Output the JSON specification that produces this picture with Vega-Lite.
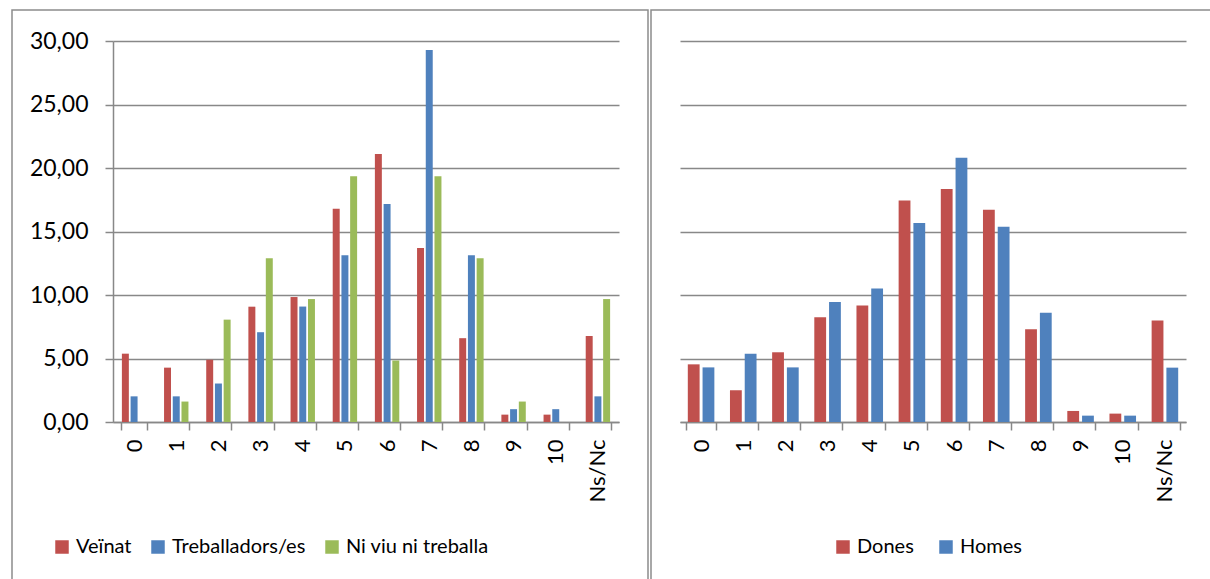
{
  "$schema": "https://vega.github.io/schema/vega-lite/v6.json",
  "padding": {"left": 0, "top": 9, "right": 0, "bottom": 0},
  "bounds": "flush",
  "spacing": 3,
  "background": "white",
  "datasets": {
    "left": [
      {"cat": "0", "serie": "Veïnat", "value": 5.38},
      {"cat": "0", "serie": "Treballadors/es", "value": 2.02},
      {"cat": "0", "serie": "Ni viu ni treballa", "value": 0},
      {"cat": "1", "serie": "Veïnat", "value": 4.28},
      {"cat": "1", "serie": "Treballadors/es", "value": 2.02},
      {"cat": "1", "serie": "Ni viu ni treballa", "value": 1.61},
      {"cat": "2", "serie": "Veïnat", "value": 4.9},
      {"cat": "2", "serie": "Treballadors/es", "value": 3.03},
      {"cat": "2", "serie": "Ni viu ni treballa", "value": 8.06},
      {"cat": "3", "serie": "Veïnat", "value": 9.08},
      {"cat": "3", "serie": "Treballadors/es", "value": 7.07},
      {"cat": "3", "serie": "Ni viu ni treballa", "value": 12.9},
      {"cat": "4", "serie": "Veïnat", "value": 9.84},
      {"cat": "4", "serie": "Treballadors/es", "value": 9.09},
      {"cat": "4", "serie": "Ni viu ni treballa", "value": 9.68},
      {"cat": "5", "serie": "Veïnat", "value": 16.8},
      {"cat": "5", "serie": "Treballadors/es", "value": 13.13},
      {"cat": "5", "serie": "Ni viu ni treballa", "value": 19.35},
      {"cat": "6", "serie": "Veïnat", "value": 21.1},
      {"cat": "6", "serie": "Treballadors/es", "value": 17.17},
      {"cat": "6", "serie": "Ni viu ni treballa", "value": 4.84},
      {"cat": "7", "serie": "Veïnat", "value": 13.7},
      {"cat": "7", "serie": "Treballadors/es", "value": 29.29},
      {"cat": "7", "serie": "Ni viu ni treballa", "value": 19.35},
      {"cat": "8", "serie": "Veïnat", "value": 6.6},
      {"cat": "8", "serie": "Treballadors/es", "value": 13.13},
      {"cat": "8", "serie": "Ni viu ni treballa", "value": 12.9},
      {"cat": "9", "serie": "Veïnat", "value": 0.58},
      {"cat": "9", "serie": "Treballadors/es", "value": 1.01},
      {"cat": "9", "serie": "Ni viu ni treballa", "value": 1.61},
      {"cat": "10", "serie": "Veïnat", "value": 0.58},
      {"cat": "10", "serie": "Treballadors/es", "value": 1.01},
      {"cat": "10", "serie": "Ni viu ni treballa", "value": 0},
      {"cat": "Ns/Nc", "serie": "Veïnat", "value": 6.77},
      {"cat": "Ns/Nc", "serie": "Treballadors/es", "value": 2.02},
      {"cat": "Ns/Nc", "serie": "Ni viu ni treballa", "value": 9.68}
    ],
    "right": [
      {"cat": "0", "serie": "Dones", "value": 4.54},
      {"cat": "0", "serie": "Homes", "value": 4.3},
      {"cat": "1", "serie": "Dones", "value": 2.5},
      {"cat": "1", "serie": "Homes", "value": 5.38},
      {"cat": "2", "serie": "Dones", "value": 5.49},
      {"cat": "2", "serie": "Homes", "value": 4.3},
      {"cat": "3", "serie": "Dones", "value": 8.24},
      {"cat": "3", "serie": "Homes", "value": 9.45},
      {"cat": "4", "serie": "Dones", "value": 9.18},
      {"cat": "4", "serie": "Homes", "value": 10.52},
      {"cat": "5", "serie": "Dones", "value": 17.45},
      {"cat": "5", "serie": "Homes", "value": 15.67},
      {"cat": "6", "serie": "Dones", "value": 18.35},
      {"cat": "6", "serie": "Homes", "value": 20.8},
      {"cat": "7", "serie": "Dones", "value": 16.72},
      {"cat": "7", "serie": "Homes", "value": 15.38},
      {"cat": "8", "serie": "Dones", "value": 7.3},
      {"cat": "8", "serie": "Homes", "value": 8.6},
      {"cat": "9", "serie": "Dones", "value": 0.87},
      {"cat": "9", "serie": "Homes", "value": 0.5},
      {"cat": "10", "serie": "Dones", "value": 0.66},
      {"cat": "10", "serie": "Homes", "value": 0.5},
      {"cat": "Ns/Nc", "serie": "Dones", "value": 8.0},
      {"cat": "Ns/Nc", "serie": "Homes", "value": 4.28}
    ]
  },
  "hconcat": [
    {
      "width": 636,
      "height": 572,
      "view": {"stroke": "#8c8c8c", "strokeWidth": 1.5},
      "data": {"name": "left"},
      "mark": {"type": "bar"},
      "encoding": {
        "x": {
          "field": "cat", "type": "nominal", "sort": null,
          "scale": {"range": [101, 607], "paddingInner": 0.38, "paddingOuter": 0.19},
          "axis": {
            "orient": "bottom", "offset": -160, "title": null,
            "labelAngle": 270, "labelAlign": "right", "labelBaseline": "middle",
            "labelPadding": 9, "tickBand": "extent", "tickSize": 8, "labelFontSize": 22
          }
        },
        "xOffset": {
          "field": "serie", "type": "nominal", "sort": null,
          "scale": {"domain": ["Veïnat", "Treballadors/es", "Ni viu ni treballa"], "paddingInner": 0.2, "paddingOuter": 0.1}
        },
        "y": {
          "field": "value", "type": "quantitative",
          "scale": {"domain": [0, 30], "range": [412, 31], "nice": false},
          "axis": {
            "orient": "left", "offset": -101, "title": null,
            "values": [0, 5, 10, 15, 20, 25, 30],
            "labelExpr": "replace(format(datum.value, '.2f'), '.', ',')",
            "grid": true, "domain": true, "ticks": true, "tickSize": 8,
            "labelPadding": 17, "labelFontSize": 23
          }
        },
        "color": {
          "field": "serie", "type": "nominal", "sort": null,
          "scale": {"domain": ["Veïnat", "Treballadors/es", "Ni viu ni treballa"], "range": ["#C0504D", "#4F81BD", "#9BBB59"]},
          "legend": {"orient": "none", "legendX": 40, "legendY": 527, "direction": "horizontal", "columns": 3, "columnPadding": 16}
        }
      }
    },
    {
      "width": 560,
      "height": 572,
      "view": {"stroke": "#8c8c8c", "strokeWidth": 1.5},
      "data": {"name": "right"},
      "mark": {"type": "bar"},
      "encoding": {
        "x": {
          "field": "cat", "type": "nominal", "sort": null,
          "scale": {"range": [29, 535], "paddingInner": 0.3, "paddingOuter": 0.15},
          "axis": {
            "orient": "bottom", "offset": -160, "title": null,
            "labelAngle": 270, "labelAlign": "right", "labelBaseline": "middle",
            "labelPadding": 9, "tickBand": "extent", "tickSize": 8, "labelFontSize": 22
          }
        },
        "xOffset": {
          "field": "serie", "type": "nominal", "sort": null,
          "scale": {"domain": ["Dones", "Homes"], "paddingInner": 0.2, "paddingOuter": 0.1}
        },
        "y": {
          "field": "value", "type": "quantitative",
          "scale": {"domain": [0, 30], "range": [412, 31], "nice": false},
          "axis": {
            "orient": "left", "title": null,
            "values": [0, 5, 10, 15, 20, 25, 30],
            "grid": true, "domain": false, "ticks": false, "labels": false,
            "minExtent": 0, "maxExtent": 0
          }
        },
        "color": {
          "field": "serie", "type": "nominal", "sort": null,
          "scale": {"domain": ["Dones", "Homes"], "range": ["#C0504D", "#4F81BD"]},
          "legend": {"orient": "none", "legendX": 182, "legendY": 527, "direction": "horizontal", "columns": 2, "columnPadding": 22}
        }
      }
    }
  ],
  "resolve": {
    "scale": {"x": "independent", "y": "independent", "xOffset": "independent", "color": "independent"},
    "legend": {"color": "independent"}
  },
  "config": {
    "font": "Lato",
    "axis": {
      "domainColor": "#888888", "domainWidth": 1.5,
      "tickColor": "#888888", "tickWidth": 1.5,
      "gridColor": "#888888", "gridWidth": 1.5, "gridOpacity": 1,
      "labelColor": "#000000", "labelFont": "Lato", "labelFontSize": 22
    },
    "legend": {
      "title": null, "padding": 0, "symbolType": "square", "symbolSize": 182,
      "symbolStrokeWidth": 0, "symbolOpacity": 1,
      "labelFont": "Lato", "labelFontSize": 20, "labelColor": "#000000",
      "labelOffset": 4, "labelLimit": 400
    }
  }
}
